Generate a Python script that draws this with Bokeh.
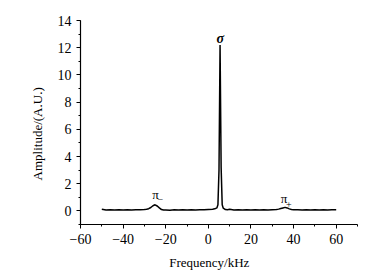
from bokeh.plotting import figure
from bokeh.models import Range1d, FixedTicker, Label
from bokeh.embed import file_html
from bokeh.resources import INLINE

freq = [-50, -48, -46, -44, -42, -40, -38, -36, -34, -32, -30, -29, -28, -27, -26, -25, -24, -23, -22, -21,
        -20, -18, -16, -14, -12, -10, -8, -6, -4, -2, 0, 2, 3, 4, 4.5, 5, 5.5, 6, 6.5, 7, 8, 9, 10,
        12, 14, 16, 18, 20, 22, 24, 26, 28, 30, 32, 33, 34, 35, 36, 37, 38, 39, 40, 42, 44, 46, 48,
        50, 52, 54, 56, 58, 60]
amp = [0.12, 0.06, 0.08, 0.07, 0.09, 0.06, 0.08, 0.07, 0.09, 0.08, 0.10, 0.12, 0.16, 0.25, 0.38, 0.45, 0.36, 0.22, 0.10, 0.06,
       0.07, 0.05, 0.08, 0.06, 0.09, 0.07, 0.08, 0.06, 0.09, 0.08, 0.10, 0.12, 0.15, 0.22, 0.45, 3.0, 12.2, 3.2, 0.45, 0.20, 0.10, 0.08, 0.12,
       0.07, 0.09, 0.06, 0.08, 0.07, 0.09, 0.06, 0.08, 0.07, 0.09, 0.10, 0.13, 0.18, 0.22, 0.26, 0.22, 0.15, 0.10, 0.08, 0.09, 0.07,
       0.08, 0.06, 0.09, 0.07, 0.08, 0.06, 0.09, 0.08]

x_ticks = [-60, -40, -20, 0, 20, 40, 60]
y_ticks = [0, 2, 4, 6, 8, 10, 12, 14]

p = figure(width=376, height=272, output_backend="svg", toolbar_location=None,
           x_range=Range1d(-60, 70), y_range=Range1d(-1, 14),
           min_border_left=80, min_border_top=20, min_border_right=19, min_border_bottom=46)
p.outline_line_color = None
p.xgrid.visible = False
p.ygrid.visible = False

p.line(freq, amp, line_color="black", line_width=1.5)

font = "Liberation Serif"
for ax in (p.xaxis[0], p.yaxis[0]):
    ax.major_label_text_font = font
    ax.major_label_text_font_size = "14px"
    ax.major_label_text_color = "black"
    ax.axis_label_text_font = font
    ax.axis_label_text_font_size = "13px"
    ax.axis_label_text_font_style = "normal"
    ax.axis_label_text_color = "black"
    ax.axis_line_color = "black"
    ax.axis_line_width = 1.2
    ax.major_tick_in = 0
    ax.major_tick_out = 4
    ax.minor_tick_in = 0
    ax.minor_tick_out = 2
    ax.major_tick_line_color = "black"
    ax.minor_tick_line_color = "black"

p.xaxis.ticker = FixedTicker(ticks=x_ticks, minor_ticks=list(range(-60, 71, 10)))
p.yaxis.ticker = FixedTicker(ticks=y_ticks, minor_ticks=list(range(-1, 15, 1)))
p.xaxis.major_label_overrides = {t: ("\u2212" + str(-t) if t < 0 else str(t)) for t in x_ticks}

nb = "\u00a0"
p.xaxis.axis_label = "Frequency/kHz" + nb * 6
p.yaxis.axis_label = "Amplitude/(A.U.)" + nb * 7
p.xaxis.axis_label_standoff = 8
p.yaxis.axis_label_standoff = 10

# peak annotations
p.add_layout(Label(x=-24.8, y=1.18, text="\u03c0", text_font=font, text_font_size="13px",
                   text_color="black", text_align="center", text_baseline="middle"))
p.add_layout(Label(x=-24.8, y=1.18, text="\u2212", text_font=font, text_font_size="10px",
                   text_color="black", text_align="left", text_baseline="middle", x_offset=2, y_offset=-5))
p.add_layout(Label(x=5.6, y=12.69, text="\u03c3", text_font=font, text_font_size="14px",
                   text_color="black", text_font_style="bold italic", text_align="center", text_baseline="middle"))
p.add_layout(Label(x=35.5, y=0.89, text="\u03c0", text_font=font, text_font_size="13px",
                   text_color="black", text_align="center", text_baseline="middle"))
p.add_layout(Label(x=35.5, y=0.89, text="+", text_font=font, text_font_size="10px",
                   text_color="black", text_align="left", text_baseline="middle", x_offset=2, y_offset=-6))

open("out.html", "w").write(file_html(p, INLINE))
